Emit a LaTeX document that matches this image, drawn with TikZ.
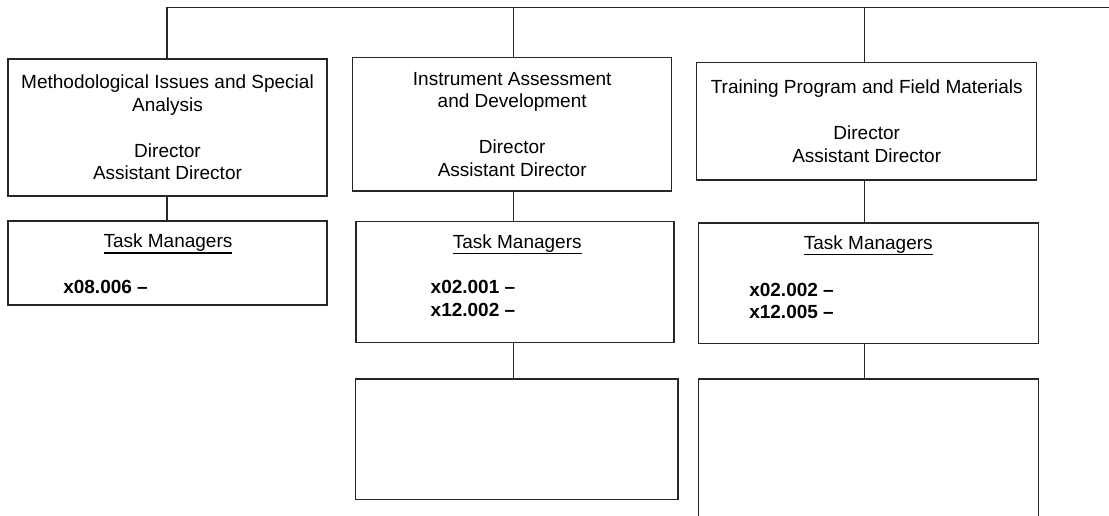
\documentclass[tikz,border=0pt]{standalone}
\usepackage{fontspec}
\setmainfont{Liberation Sans}
% underlined heading with a rule of fixed weight
\newcommand{\undl}[1]{\leavevmode\vtop{\hbox{#1}\kern0.9pt\hrule height 1.3pt}}
\begin{document}
\begin{tikzpicture}[x=1pt,y=-1pt,
  every node/.style={font=\fontsize{19}{22.8}\selectfont},
  box/.style={draw=black!85,line width=1.3pt,rectangle,inner sep=2pt,outer sep=0pt,align=center},
  txt/.style={inner sep=0pt,outer sep=0pt},
  code/.style={txt,anchor=base west,font=\fontsize{19}{22.8}\selectfont\bfseries},
  head/.style={txt,anchor=base},
  link/.style={draw=black!85,line width=1.3pt}]
\useasboundingbox (0,0) rectangle (1109,515);

% column spines
\coordinate (c1) at (167,0);
\coordinate (c2) at (513.7,0);
\coordinate (c3) at (864.3,0);
\coordinate (top) at (167,7.5);
\coordinate (topend) at (1109,7.5);

% division boxes
\node[box,minimum width=319,minimum height=137] (b1) at (167.5,127.5)
  {Methodological Issues and Special\\Analysis\\[22.8pt]Director\\Assistant Director};
\node[box,minimum width=319,minimum height=133.3] (b2) at (512.2,124.35)
  {Instrument Assessment\\and Development\\[22.8pt]Director\\Assistant Director};
\node[box,minimum width=340,minimum height=117.7] (b3) at (866.7,121.15)
  {Training Program and Field Materials\\[22.8pt]Director\\Assistant Director};

% task manager boxes
\node[box,minimum width=319,minimum height=84] (t1) at (167.5,263) {};
\node[box,minimum width=318,minimum height=121] (t2) at (515,282.2) {};
\node[box,minimum width=340,minimum height=120.3] (t3) at (868.3,283.15) {};

\node[head] (t1h) at (168,247.5) {\undl{Task Managers}};
\node[code] (t1a) at (63.3,293.5) {x08.006 –};

\node[head] (t2h) at (517.2,248.3) {\undl{Task Managers}};
\node[code] (t2a) at (430.7,293.7) {x02.001 –};
\node[code] (t2b) at (430.7,316.5) {x12.002 –};

\node[head] (t3h) at (868.3,249.3) {\undl{Task Managers}};
\node[code] (t3a) at (749.3,296) {x02.002 –};
\node[code] (t3b) at (749.3,318.7) {x12.005 –};

% empty boxes below
\node[box,minimum width=322.3,minimum height=120.3] (e2) at (516.85,439.15) {};
\node[box,minimum width=340,minimum height=161] (e3) at (868.3,459.5) {};

% connectors
\draw[link] (b1.north -| c1) -- (top) -- (topend);
\draw[link] (b2.north -| c2) -- (top -| c2);
\draw[link] (b3.north -| c3) -- (top -| c3);
\draw[link] (b1.south -| c1) -- (t1.north -| c1);
\draw[link] (b2.south -| c2) -- (t2.north -| c2);
\draw[link] (b3.south -| c3) -- (t3.north -| c3);
\draw[link] (t2.south -| c2) -- (e2.north -| c2);
\draw[link] (t3.south -| c3) -- (e3.north -| c3);
\end{tikzpicture}
\end{document}
